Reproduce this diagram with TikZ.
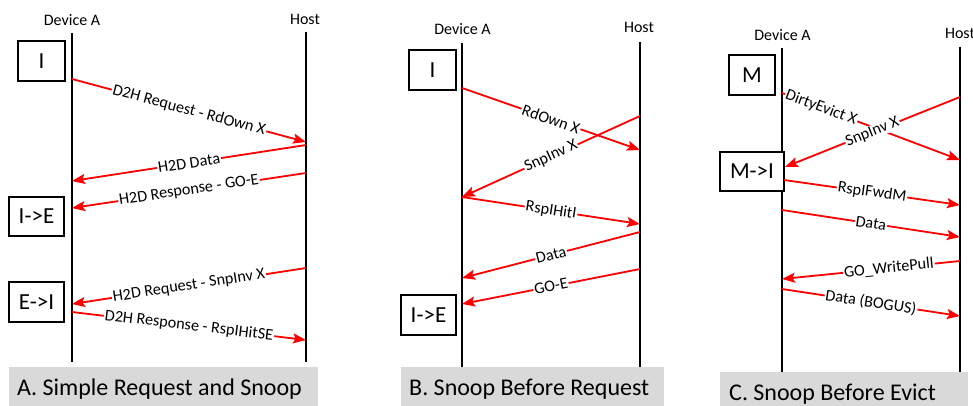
\documentclass[tikz,border=0pt]{standalone}
\usepackage{fontspec}
\setmainfont{Carlito}
\usetikzlibrary{arrows.meta}
\definecolor{capgray}{HTML}{D9D9D9}
\definecolor{msgred}{HTML}{FF0000}
\begin{document}
\begin{tikzpicture}[x=1pt,y=-1pt,
 life/.style={line width=2pt, black},
 msg/.style={line width=1.8pt, msgred, -{Stealth[length=13pt,width=10pt,inset=2.5pt]}},
 lbl/.style={sloped, fill=white, inner xsep=1pt, inner ysep=0.3pt, text=black, font=\fontsize{16.2}{17}\selectfont},
 head/.style={anchor=base, inner sep=0pt, font=\fontsize{16}{18}\selectfont},
 statebox/.style={draw=black, line width=1.3pt, fill=white, font=\fontsize{23}{26}\selectfont, inner sep=0pt},
 captext/.style={anchor=base west, inner sep=0pt, font=\fontsize{24}{28}\selectfont},
 capbox/.style={fill=capgray}]
\useasboundingbox (0,0) rectangle (973,406);
\clip (0,0) rectangle (973,406);

% ---------------- Panel A ----------------
\coordinate (AdT) at (72,33);  \coordinate (AdB) at (72,362);
\coordinate (AhT) at (306,32); \coordinate (AhB) at (306,362);
\draw[life] (AdT) -- (AdB);
\draw[life] (AhT) -- (AhB);
\node[head] (AdevL) at (72,26) {Device A};
\node[head] (AhostL) at (305,25) {Host};
\node[statebox, minimum width=47pt, minimum height=40pt] (AsI) at (41.5,61) {I};
\node[statebox, minimum width=55pt, minimum height=39pt] (AsIE) at (36.5,216.5) {I->E};
\node[statebox, minimum width=55pt, minimum height=40pt] (AsEI) at (36.5,302) {E->I};
\coordinate (a1s) at (72,79);   \coordinate (a1e) at (306,142);
\coordinate (a2s) at (306,145); \coordinate (a2e) at (72,181);
\coordinate (a3s) at (306,173); \coordinate (a3e) at (72,208);
\coordinate (a4s) at (306,268); \coordinate (a4e) at (72,304);
\coordinate (a5s) at (72,312);  \coordinate (a5e) at (306,340);
\draw[msg] (a1s) -- node[lbl] (la1) {D2H Request - RdOwn X} (a1e);
\draw[msg] (a2s) -- node[lbl] (la2) {H2D Data} (a2e);
\draw[msg] (a3s) -- node[lbl] (la3) {H2D Response - GO-E} (a3e);
\draw[msg] (a4s) -- node[lbl] (la4) {H2D Request - SnpInv X} (a4e);
\draw[msg] (a5s) -- node[lbl] (la5) {D2H Response - RspIHitSE} (a5e);
\fill[capbox] (9,367) rectangle (318,406);
\node[captext] (Acap) at (17,395) {A. Simple Request and Snoop};

% ---------------- Panel B ----------------
\coordinate (BdT) at (462,43);  \coordinate (BdB) at (462,367);
\coordinate (BhT) at (640,42);  \coordinate (BhB) at (640,367);
\draw[life] (BdT) -- (BdB);
\draw[life] (BhT) -- (BhB);
\node[head] (BdevL) at (462.5,35) {Device A};
\node[head] (BhostL) at (639,32.3) {Host};
\node[statebox, minimum width=47pt, minimum height=40pt] (BsI) at (432.5,70) {I};
\node[statebox, minimum width=55pt, minimum height=40pt] (BsIE) at (428.5,315) {I->E};
\coordinate (b1s) at (462,88);  \coordinate (b1e) at (640,150);
\coordinate (b2s) at (640,116); \coordinate (b2e) at (462,197);
\coordinate (b3s) at (462,197); \coordinate (b3e) at (640,224);
\coordinate (b4s) at (640,232); \coordinate (b4e) at (462,278);
\coordinate (b5s) at (640,269); \coordinate (b5e) at (462,304);
\draw[msg] (b1s) -- node[lbl] (lb1) {RdOwn X} (b1e);
\draw[msg] (b2s) -- node[lbl] (lb2) {SnpInv X} (b2e);
\draw[msg] (b3s) -- node[lbl] (lb3) {RspIHitI} (b3e);
\draw[msg] (b4s) -- node[lbl] (lb4) {Data} (b4e);
\draw[msg] (b5s) -- node[lbl] (lb5) {GO-E} (b5e);
\fill[capbox] (401,367) rectangle (664,406);
\node[captext] (Bcap) at (409,395) {B. Snoop Before Request};

% ---------------- Panel C ----------------
\coordinate (CdT) at (782,48);  \coordinate (CdB) at (782,372);
\coordinate (ChT) at (960,47);  \coordinate (ChB) at (960,372);
\draw[life] (CdT) -- (CdB);
\draw[life] (ChT) -- (ChB);
\node[head] (CdevL) at (782.5,40.7) {Device A};
\node[head] (ChostL) at (960,38.3) {Host};
\node[statebox, minimum width=46pt, minimum height=40pt] (CsM) at (752,75) {M};
\node[statebox, minimum width=64pt, minimum height=39pt] (CsMI) at (752,171.5) {M->I};
\coordinate (c1s) at (782,93);  \coordinate (c1e) at (960,160);
\coordinate (c2s) at (960,97);  \coordinate (c2e) at (785,167);
\coordinate (c3s) at (784,180); \coordinate (c3e) at (960,205);
\coordinate (c4s) at (782,210); \coordinate (c4e) at (960,237);
\coordinate (c5s) at (960,261); \coordinate (c5e) at (782,279);
\coordinate (c6s) at (782,289); \coordinate (c6e) at (960,316);
\draw[msg] (c1s) -- node[lbl, pos=0.22] (lc1) {DirtyEvict X} (c1e);
\draw[msg] (c2s) -- node[lbl] (lc2) {SnpInv X} (c2e);
\draw[msg] (c3s) -- node[lbl] (lc3) {RspIFwdM} (c3e);
\draw[msg] (c4s) -- node[lbl] (lc4) {Data} (c4e);
\draw[msg] (c5s) -- node[lbl, pos=0.4] (lc5) {GO\_WritePull} (c5e);
\draw[msg] (c6s) -- node[lbl] (lc6) {Data (BOGUS)} (c6e);
\fill[capbox] (720,372) rectangle (968,406);
\node[captext] (Ccap) at (729,400) {C. Snoop Before Evict};
\end{tikzpicture}
\end{document}
